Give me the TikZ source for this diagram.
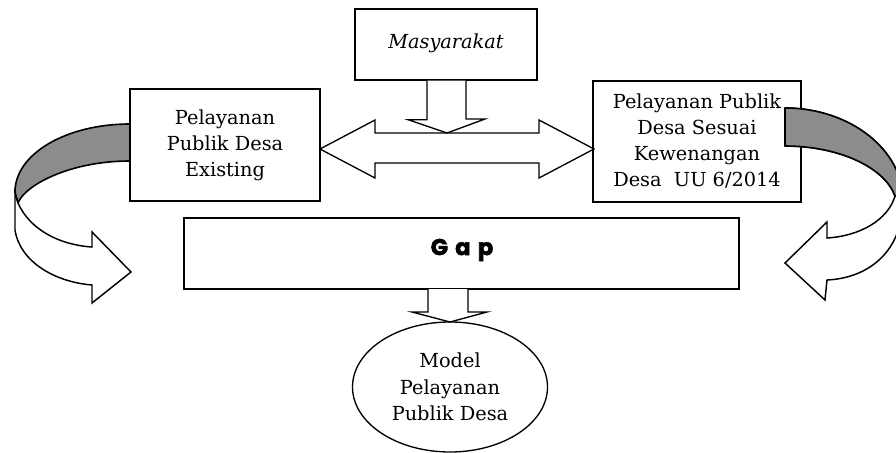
\documentclass[tikz,border=0pt]{standalone}
\usepackage{fontspec}
\setmainfont{DejaVu Serif}
\newfontfamily\gapfont[LetterSpace=32, BoldFeatures={FakeBold=2.5}]{Poppins}
\usetikzlibrary{shapes.geometric,calc}
\definecolor{ribbon}{RGB}{140,140,140}
\newcommand\boxfont{\fontsize{14.5}{19.5}\selectfont}
\tikzset{
  box/.style={draw, line width=1pt, fill=white, inner sep=0pt, align=center, font=\boxfont},
  blockarrow/.style={draw, line width=1pt, fill=white, line join=miter},
  bandgray/.style={draw, line width=1.2pt, fill=ribbon, line join=round},
  bandwhite/.style={draw, line width=1.1pt, fill=white, line join=miter},
}
\begin{document}
\begin{tikzpicture}[x=0.75pt,y=-0.75pt]
\useasboundingbox (0,0) rectangle (896,453);
\clip (0,0) rectangle (896,453);

% boxes
\node[box, minimum width=136.5pt, minimum height=53.25pt] (mas) at (446,44.5) {\raisebox{5pt}{\itshape Masyarakat}};
\node[box, minimum width=142.5pt, minimum height=84pt] (exist) at (225,145) {Pelayanan\\Publik Desa\\Existing};
\node[box, minimum width=156pt, minimum height=90.75pt] (sesuai) at (697,141.5) {Pelayanan Publik\\Desa Sesuai\\Kewenangan\\Desa\ \ UU 6/2014};
\node[box, minimum width=416.25pt, minimum height=53.25pt] (gap) at (461.5,253.5) {};
\node[font={\gapfont\bfseries\fontsize{17}{18}\selectfont}] (gaplabel) at (462,250) {Gap};
\node[box, ellipse, minimum width=146.25pt, minimum height=97.5pt, font={\fontsize{14.5}{20}\selectfont}] (model) at (450,387) {Model\\Pelayanan\\Publik Desa};

% two-way block arrow between the service boxes
\draw[blockarrow] (320,149) -- (375,120) -- (375,133) -- (539,133) -- (539,120) -- (594,149)
  -- (539,178) -- (539,163) -- (375,163) -- (375,178) -- cycle;

% block arrow from Masyarakat
\draw[blockarrow] ($(mas.south)+(-19,0)$) -- ++(0,39) -- ++(-19,0) -- (447,133) -- (485,119) -- (466,119) -- ($(mas.south)+(20,0)$);

% block arrow from Gap to the model
\draw[blockarrow] (428,289) -- (428,312) -- (412,312) -- (450,322) -- (487,312) -- (468,312) -- (468,289);

% curved ribbon arrow on the left
\draw[bandwhite] (15,192) -- (15,230) .. controls (20,262) and (55,282) .. (92,285) -- (92,303) -- (131,272)
  -- (92,232) -- (92,247) .. controls (60,245) and (30,230) .. (18,203) -- cycle;
\draw[bandgray] (130,124) .. controls (66,124) and (15,154) .. (15,192) -- (18,203)
  .. controls (25,185) and (70,161) .. (130,161) -- cycle;

% curved ribbon arrow on the right
\draw[bandwhite] (785,108) .. controls (850,108) and (903,150) .. (903,200)
  .. controls (903,250) and (870,278) .. (827,280) -- (825,300) -- (785,263) -- (827,222) -- (827,238)
  .. controls (860,236) and (888,220) .. (895,196)
  .. controls (885,168) and (840,146) .. (785,146) -- cycle;
\draw[bandgray] (785,108) .. controls (850,108) and (903,150) .. (903,200) -- (895,196)
  .. controls (885,168) and (840,146) .. (785,146) -- cycle;
\end{tikzpicture}
\end{document}
